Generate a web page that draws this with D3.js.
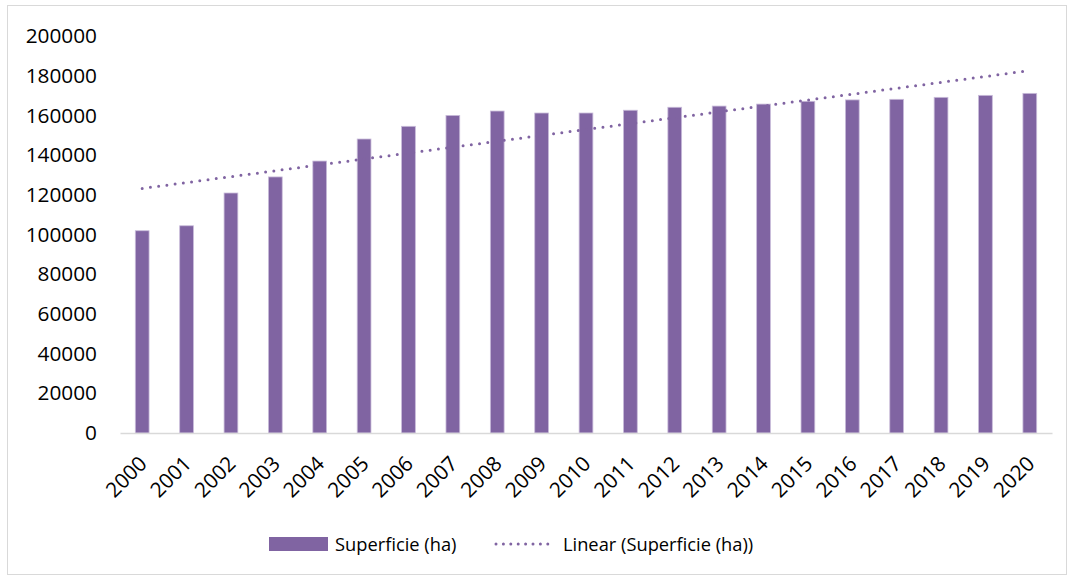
<!DOCTYPE html>
<html><head><meta charset="utf-8">
<script src="https://cdn.jsdelivr.net/npm/d3@7"></script>
<style>body{margin:0;background:#fff}svg{display:block}</style>
</head><body>
<svg id="chart" width="1072" height="578"></svg>
<script>
const years = ["2000","2001","2002","2003","2004","2005","2006","2007","2008","2009","2010","2011","2012","2013","2014","2015","2016","2017","2018","2019","2020"];
const superficie = [101900,104400,120900,129000,137000,148100,154500,160000,162200,161200,161200,162600,164100,164700,165700,167100,167800,168100,169100,170100,171100];
const yTicks = [0,20000,40000,60000,80000,100000,120000,140000,160000,180000,200000];
const seriesName = "Superficie (ha)";
const trendName = "Linear (Superficie (ha))";

const W = 1072, H = 578;
const FONT = "'Open Sans', sans-serif";
const color = "#8064a2";
const svg = d3.select("#chart");

svg.append("rect").attr("x",7.5).attr("y",5.5).attr("width",1059).attr("height",569)
  .attr("fill","#fff").attr("stroke","#d9d9d9").attr("stroke-width",1);

const m = {left:120, right:1052, top:36, bottom:433};
const x = d3.scaleBand().domain(years).range([m.left, m.right]).paddingInner(0.69).paddingOuter(0.345);
const y = d3.scaleLinear().domain([0,200000]).range([m.bottom, m.top]);

// y axis labels
const yAxis = d3.axisLeft(y).tickValues(yTicks).tickSize(0).tickPadding(0).tickFormat(d3.format("d"));
const ya = svg.append("g").attr("transform",`translate(${m.left-23},0)`).call(yAxis);
ya.select(".domain").remove();
ya.selectAll("text").attr("font-family",FONT).attr("font-size",20.8).attr("fill","#000");

// bars
svg.append("g").selectAll("rect").data(superficie).join("rect")
  .attr("x",(d,i)=>x(years[i]))
  .attr("y",d=>y(d))
  .attr("width",x.bandwidth())
  .attr("height",d=>y(0)-y(d))
  .attr("fill",color)
  .attr("stroke","#c9bcda").attr("stroke-width",0.8);

// x axis
const xAxis = d3.axisBottom(x).tickSize(0).tickPadding(0);
const xa = svg.append("g").attr("transform",`translate(0,${m.bottom})`).call(xAxis);
xa.select(".domain").attr("stroke","#d9d9d9").attr("stroke-width",1.5);
xa.selectAll("text").attr("font-family",FONT).attr("font-size",20.8).attr("fill","#000")
  .attr("text-anchor","end").attr("dy",0)
  .attr("transform","translate(6,32) rotate(-45)");

// linear trend (least squares from the data)
const n = superficie.length;
const xs = d3.range(n);
const mx = d3.mean(xs), my = d3.mean(superficie);
const slope = d3.sum(xs,(v,i)=>(v-mx)*(superficie[i]-my))/d3.sum(xs,v=>(v-mx)*(v-mx));
const icpt = my - slope*mx;
const cx = i => x(years[i]) + x.bandwidth()/2;
svg.append("line")
  .attr("x1",cx(0)).attr("y1",y(icpt))
  .attr("x2",cx(n-1)).attr("y2",y(icpt+slope*(n-1)))
  .attr("stroke",color).attr("stroke-width",3).attr("stroke-linecap","round")
  .attr("stroke-dasharray","0 8.3");

// legend
const lg = svg.append("g");
lg.append("rect").attr("x",269).attr("y",537).attr("width",59).attr("height",14).attr("fill",color);
lg.append("text").attr("x",335).attr("y",551).attr("font-family",FONT).attr("font-size",18.3).attr("fill","#000").text(seriesName);
lg.append("line").attr("x1",496).attr("x2",555).attr("y1",544).attr("y2",544)
  .attr("stroke",color).attr("stroke-width",3).attr("stroke-linecap","round").attr("stroke-dasharray","0 7.4");
lg.append("text").attr("x",563).attr("y",551).attr("font-family",FONT).attr("font-size",18.3).attr("fill","#000").text(trendName);
</script>
</body></html>
